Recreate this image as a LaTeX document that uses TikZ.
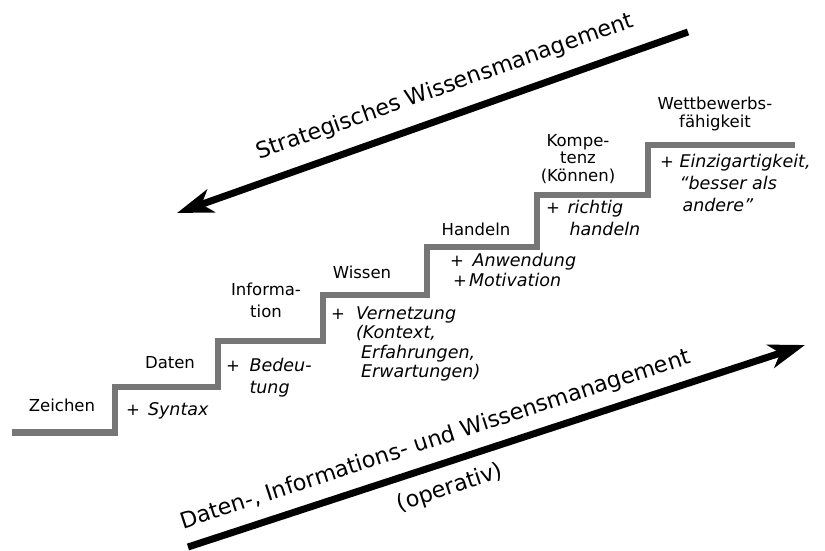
\documentclass[tikz,border=0pt]{standalone}
\usepackage{fontspec}
\setmainfont{DejaVu Sans}
\usetikzlibrary{arrows.meta}
\definecolor{stairgray}{RGB}{118,118,118}
\newcommand{\addit}{\fontsize{17.5}{20}\selectfont\itshape}
\begin{document}
\begin{tikzpicture}[x=1pt,y=-1pt,
  lbl/.style={font=\fontsize{16.5}{22}\selectfont, inner sep=0pt, anchor=base},
  lblw/.style={lbl, anchor=base west},
  big/.style={font=\fontsize{22.3}{26}\selectfont, inner sep=0pt, anchor=base},
  stairline/.style={draw=stairgray, line width=6.5pt, line join=miter},
  bigarrow/.style={line width=7pt, -{Stealth[length=36pt,width=24pt,inset=10pt]}}]
\useasboundingbox (0,0) rectangle (825,551);

% staircase
\draw[stairline] (12,432.5) -- (115,432.5) -- (115,387) -- (218,387) -- (218,341)
  -- (323,341) -- (323,295) -- (427,295) -- (427,247) -- (537,247) -- (537,195)
  -- (648,195) -- (648,145) -- (795,145);

% step names
\node[lbl] (zeichen) at (62,411) {Zeichen};
\node[lbl] (daten) at (170,368) {Daten};
\node[lbl] (information) at (266,295) {\begin{tabular}[t]{@{}c@{}}Informa-\\tion\end{tabular}};
\node[lbl] (wissen) at (362,278) {Wissen};
\node[lbl] (handeln) at (476,235) {Handeln};
\node[lbl,font=\fontsize{16.5}{17.5}\selectfont] (kompetenz) at (578,146) {\begin{tabular}[t]{@{}c@{}}Kompe-\\tenz\\(Können)\end{tabular}};
\node[lbl,font=\fontsize{16.5}{17.5}\selectfont] (wettbewerb) at (715,110) {\begin{tabular}[t]{@{}c@{}}Wettbewerbs-\\fähigkeit\end{tabular}};

% additions
\node[lblw] (syntax) at (126,415) {+\hspace{8pt}{\addit Syntax}};
\node[lblw] (bedeutung) at (226,371) {\begin{tabular}[t]{@{}l@{\hspace{9.5pt}}l@{}}+&\addit Bedeu-\\&\addit tung\end{tabular}};
\node[lblw,font=\fontsize{16.5}{19.5}\selectfont] (vernetzung) at (331,319) {\begin{tabular}[t]{@{}l@{\hspace{11pt}}l@{}}+&\addit Vernetzung\\&\addit (Kontext,\\&\addit \hspace{5pt}Erfahrungen,\\&\addit \hspace{5pt}Erwartungen)\end{tabular}};
\node[lblw,font=\fontsize{16.5}{20}\selectfont] (anwendung) at (450,266) {\begin{tabular}[t]{@{}l@{}}+\hspace{8.5pt}{\addit Anwendung}\\\hspace{3pt}+\hspace{2pt}{\addit Motivation}\end{tabular}};
\node[lblw] (richtig) at (546,213) {\begin{tabular}[t]{@{}l@{\hspace{7.5pt}}l@{}}+&\addit richtig\\&\addit \hspace{2pt}handeln\end{tabular}};
\node[lblw] (einzig) at (660,167) {\begin{tabular}[t]{@{}l@{\hspace{5.5pt}}l@{}}+&\addit Einzigartigkeit,\\&\addit “besser als\\&\addit \hspace{3pt}andere”\end{tabular}};

% arrows
\coordinate (sA) at (688,32);
\coordinate (sB) at (177,213);
\draw[bigarrow] (sA) -- (sB);
\node[big,rotate=19.5] (strat) at (447,93) {Strategisches Wissensmanagement};

\coordinate (oA) at (188,547);
\coordinate (oB) at (805,345);
\draw[bigarrow] (oA) -- (oB);
\node[big,rotate=18.1] (oper) at (437.5,446) {Daten-, Informations- und Wissensmanagement};
\node[big,rotate=18.1] (operativ) at (452,494) {(operativ)};
\end{tikzpicture}
\end{document}
